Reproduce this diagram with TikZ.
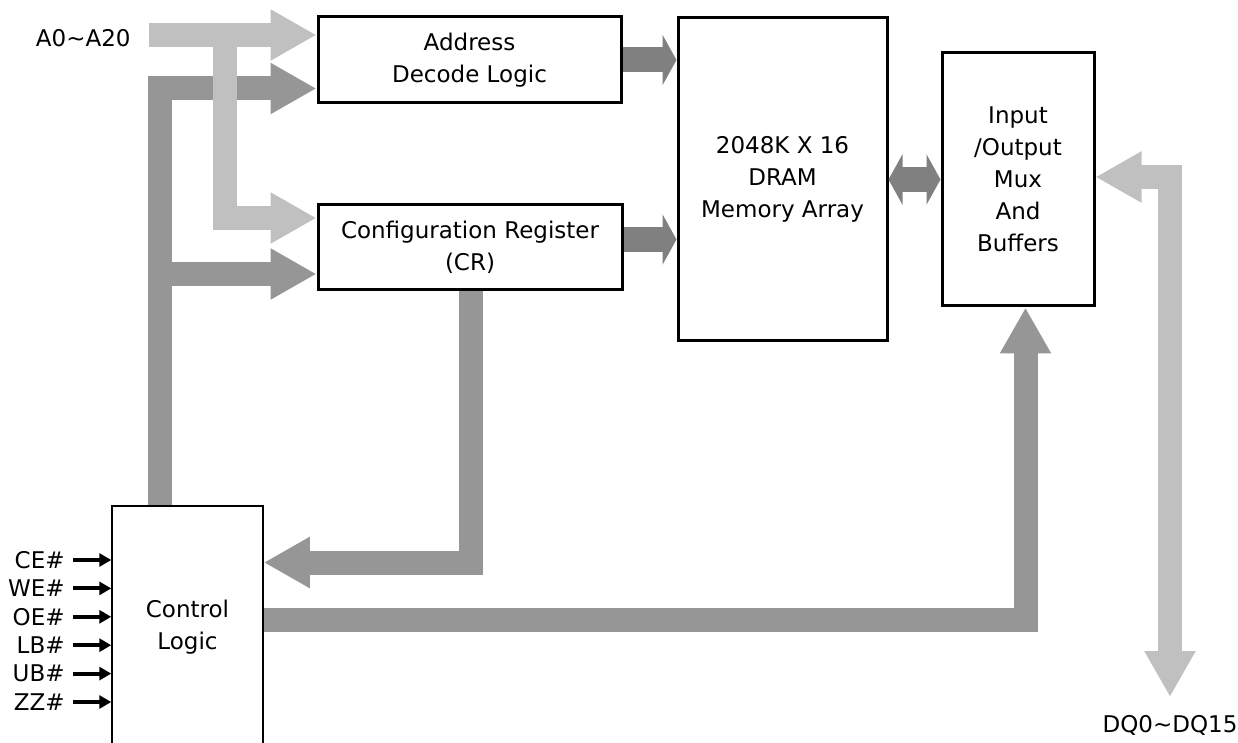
\documentclass[tikz,border=0pt]{standalone}
\usepackage{fontspec}
\setmainfont{DejaVu Sans}
\usetikzlibrary{arrows.meta,calc}
\definecolor{buslight}{HTML}{C0C0C0}
\definecolor{busmid}{HTML}{969696}
\definecolor{busdark}{HTML}{808080}

\begin{document}
\begin{tikzpicture}[x=0.5pt,y=-0.5pt,
	font=\fontsize{11.5}{16}\selectfont,
	blk/.style={draw=black,line width=1.5pt,align=center,inner sep=0pt},
	lbus/.style={draw=buslight,line width=12pt,-{Triangle[length=23pt,width=24pt]}},
	mbus/.style={draw=busmid,line width=12pt,-{Triangle[length=23pt,width=24pt]}},
	dbus/.style={draw=busdark,line width=12.5pt,-{Triangle[length=7pt,width=25pt]}},
	sig/.style={draw=black,line width=2pt,-{Triangle[length=6pt,width=6.5pt]}}]
	\useasboundingbox (0,0) rectangle (1238,743);
	% blocks
	\node [blk,minimum width=151.5pt,minimum height=43pt] (addr) at (469.5,60) {Address\\Decode Logic};
	\node [blk,minimum width=152pt,minimum height=42.5pt] (cfg) at (470,247.5) {Configuration Register\\(CR)};
	\node [blk,minimum width=104.5pt,minimum height=161.5pt] (dram) at (782.5,179.5) {2048K X 16\\DRAM\\Memory Array};
	\node [blk,minimum width=76pt,minimum height=126.5pt] (io) at (1018,179.5) {Input\\/Output\\Mux\\And\\Buffers};
	\node [blk,line width=0.75pt,minimum width=75.5pt,minimum height=121.5pt] (ctl) at (187.5,627.5) {Control\\Logic};
	% control bus
	\coordinate (ctlup) at (160,88.5);
	\coordinate (ctlcr) at (160,274);
	\draw [mbus] (ctl.north -| ctlup) -- (ctlup) -- (ctlup -| addr.west);
	\draw [mbus] (ctlcr) -- (ctlcr -| cfg.west);
	% address bus
	\node [anchor=east,inner sep=0pt] (ain) at (131,38) {A0\textasciitilde A20};
	\coordinate (ain0) at (149,35);
	\coordinate (asplit) at (225,35);
	\coordinate (cfgin) at (225,218);
	\draw [lbus] (ain0) -- (ain0 -| addr.west);
	\draw [lbus] (asplit) -- (cfgin) -- (cfgin -| cfg.west);
	% into the array
	\coordinate (cfgout) at ($(cfg.east)+(0,-8)$);
	\draw [dbus] (addr.east) -- (addr.east -| dram.west);
	\draw [dbus] (cfgout) -- (cfgout -| dram.west);
	\draw [dbus,{Triangle[length=7pt,width=25pt]}-{Triangle[length=7pt,width=25pt]}] (dram.east) -- (io.west);
	% CR back to control, control to I/O
	\coordinate (crret) at (470.5,562.5);
	\draw [mbus] (cfg.south -| crret) -- (crret) -- (crret -| ctl.east);
	\coordinate (iobend) at (1025.5,620);
	\draw [mbus] (ctl.east |- iobend) -- (iobend) -- (iobend |- io.south);
	% data bus
	\coordinate (dqbend) at (1170,177);
	\coordinate (dqend) at (1170,697);
	\draw [lbus,{Triangle[length=23pt,width=24pt]}-{Triangle[length=23pt,width=24pt]}] (dqbend -| io.east) -- (dqbend) -- (dqend);
	\node (dq) at (1170,725) {DQ0\textasciitilde DQ15};
	% control inputs
	\foreach \s [count=\i] in {CE,WE,OE,LB,UB,ZZ} {
		\node [anchor=east,inner sep=0pt] (\s) at (65,{560+28.4*(\i-1)}) {\s\#};
		\draw [sig] ($(\s.east)+(8,0)$) -- (\s.east -| ctl.west);
	}
\end{tikzpicture}
\end{document}
